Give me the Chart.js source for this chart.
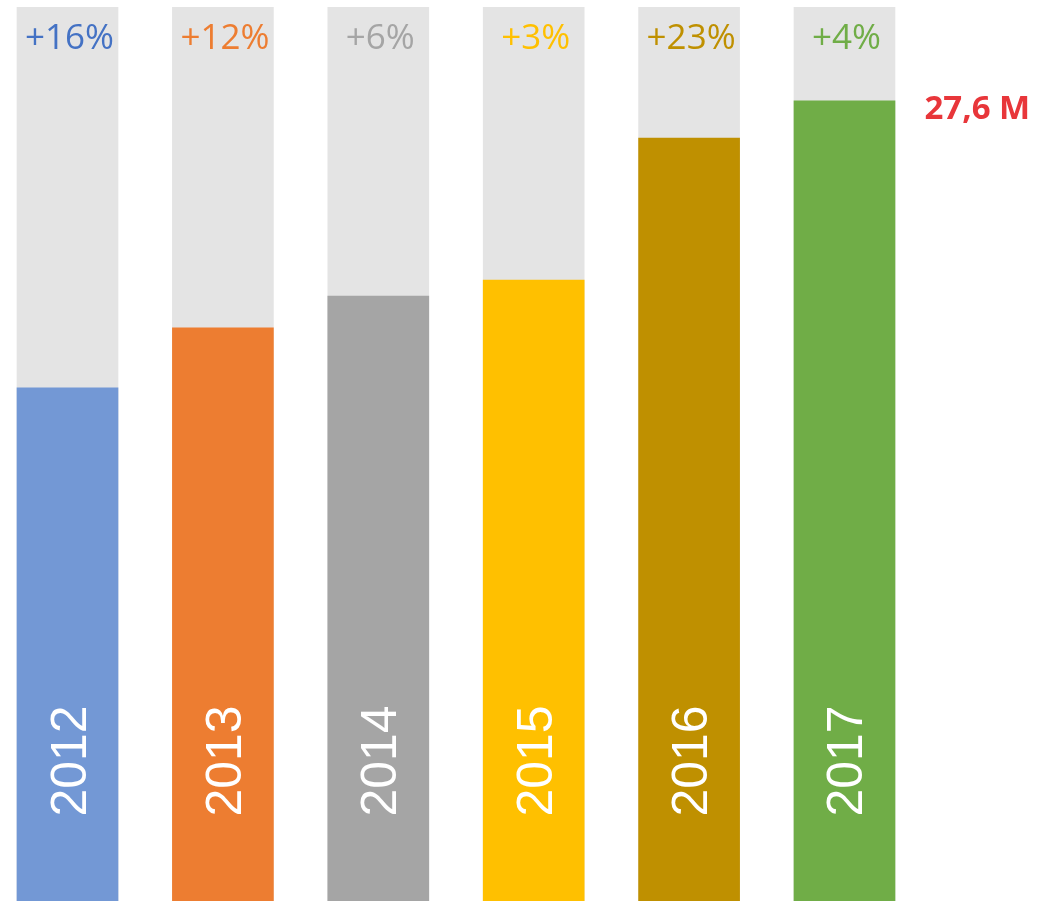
<!DOCTYPE html>
<html>
<head>
<meta charset="utf-8">
<script src="https://cdn.jsdelivr.net/npm/chart.js@4"></script>
<style>
  html, body { margin: 0; padding: 0; background: #fff; }
  canvas { display: block; }
</style>
</head>
<body>
<canvas id="myChart" width="1039" height="901"></canvas>
<script>
const years = ["2012", "2013", "2014", "2015", "2016", "2017"];
const values = [17.70, 19.77, 20.87, 21.42, 26.32, 27.6];
const growthLabels = ["+16%", "+12%", "+6%", "+3%", "+23%", "+4%"];
const trackValues = [30.84, 30.84, 30.84, 30.84, 30.84, 30.84];
const barColors = ["#7398D5", "#ED7D31", "#A5A5A5", "#FFC000", "#BF9000", "#70AD47"];
const labelColors = ["#4472C4", "#ED7D31", "#A5A5A5", "#FFC000", "#BF9000", "#70AD47"];
const lastValueLabel = "27,6 M";

const ctx = document.getElementById("myChart").getContext("2d");

const labelsPlugin = {
  id: "barLabels",
  afterDatasetsDraw(chart) {
    const c = chart.ctx;
    const meta = chart.getDatasetMeta(1);
    c.save();
    meta.data.forEach((bar, i) => {
      // growth on top of the grey track
      c.fillStyle = labelColors[i];
      c.font = "35px 'Open Sans'";
      c.textAlign = "center";
      c.textBaseline = "alphabetic";
      c.fillText(growthLabels[i], bar.x + 2, 49);

      // year, rotated, inside the bar
      c.save();
      c.translate(bar.x + 18, 761);
      c.rotate(-Math.PI / 2);
      c.fillStyle = "#ffffff";
      c.font = "50px 'Liberation Sans'";
      c.textAlign = "center";
      c.textBaseline = "alphabetic";
      c.fillText(years[i], 0, 0);
      c.restore();
    });
    const last = meta.data[meta.data.length - 1];
    c.fillStyle = "#E8363A";
    c.font = "bold 33px 'Open Sans'";
    c.textAlign = "left";
    c.textBaseline = "alphabetic";
    c.fillText(lastValueLabel, last.x + 80, last.y + 18);
    c.restore();
  }
};

const myChart = new Chart(ctx, {
  type: "bar",
  data: {
    datasets: [
      {
        label: "track",
        data: trackValues.map((v, i) => ({ x: i, y: v })),
        backgroundColor: "#E4E4E4",
        borderWidth: 0,
        barThickness: 101,
        grouped: false,
        order: 2
      },
      {
        label: "value",
        data: values.map((v, i) => ({ x: i, y: v })),
        backgroundColor: barColors,
        borderWidth: 0,
        barThickness: 101,
        grouped: false,
        order: 1
      }
    ]
  },
  options: {
    responsive: false,
    animation: false,
    layout: { padding: { top: 7, bottom: 0, left: 0, right: 0 } },
    scales: {
      x: { type: "linear", offset: false, min: -0.4344, max: 6.2517, display: false },
      y: { min: 0, max: 30.84, display: false }
    },
    plugins: {
      legend: { display: false },
      tooltip: { enabled: false }
    }
  },
  plugins: [labelsPlugin]
});
</script>
</body>
</html>
